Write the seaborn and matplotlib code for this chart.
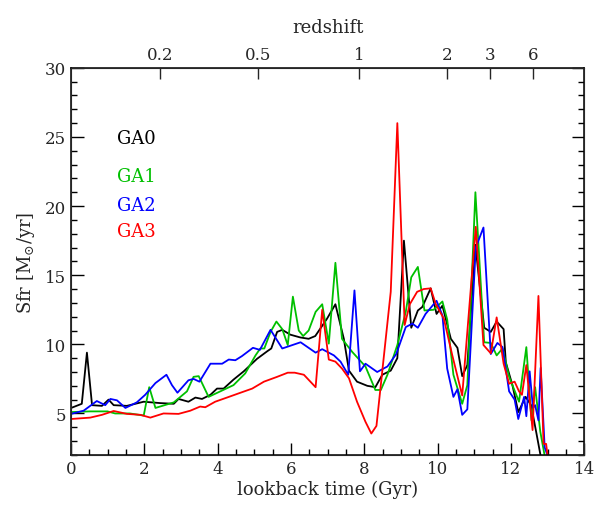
import numpy as np
import pandas as pd
import matplotlib
matplotlib.use("Agg")
import matplotlib.pyplot as plt
import seaborn as sns
from matplotlib.ticker import MultipleLocator

# lookback time (Gyr) and star formation rate (Msun/yr) per run
t_ga0 = [0.0, 0.29, 0.43, 0.57, 0.84, 1.02, 1.16, 1.52, 1.98, 2.43, 2.8, 2.93, 3.2, 3.39,
         3.57, 3.8, 3.98, 4.16, 4.43, 4.71, 5.07, 5.35, 5.46, 5.62, 5.76, 5.98, 6.25, 6.48,
         6.66, 6.98, 7.21, 7.44, 7.58, 7.8, 8.08, 8.3, 8.49, 8.72, 8.9, 9.08, 9.28, 9.46,
         9.58, 9.81, 9.97, 10.13, 10.36, 10.54, 10.67, 10.81, 11.03, 11.27, 11.45, 11.61,
         11.8, 11.86, 12.04, 12.2, 12.4, 12.55, 12.7, 12.84]
sfr_ga0 = [5.4, 5.7, 9.4, 5.6, 5.55, 6.0, 5.6, 5.55, 5.85, 5.75, 5.7, 6.05, 5.85, 6.15,
           6.05, 6.35, 6.8, 6.8, 7.45, 8.05, 8.95, 9.5, 9.7, 10.9, 11.05, 10.7, 10.5, 10.4,
           10.6, 11.85, 12.9, 10.4, 8.1, 7.3, 7.0, 6.9, 7.8, 8.1, 9.0, 17.5, 11.2, 12.45,
           12.7, 14.05, 12.2, 12.8, 10.4, 9.75, 7.7, 8.5, 17.2, 11.2, 10.9, 11.65,
           11.1, 8.7, 7.05, 5.1, 6.2, 5.6, 3.5, 1.5]

t_ga1 = [0.0, 0.5, 0.99, 1.2, 1.6, 1.98, 2.13, 2.3, 2.8, 3.16, 3.34, 3.48, 3.75, 4.07,
         4.43, 4.75, 5.03, 5.16, 5.27, 5.44, 5.6, 5.76, 5.91, 6.05, 6.21, 6.33, 6.48, 6.67,
         6.85, 7.03, 7.21, 7.39, 7.67, 8.03, 8.3, 8.45, 8.63, 8.9, 9.13, 9.28, 9.46, 9.64,
         9.89, 10.13, 10.26, 10.43, 10.67, 10.81, 11.03, 11.27, 11.45, 11.61, 11.77, 11.95,
         12.22, 12.42, 12.56, 12.66, 12.8, 12.95]
sfr_ga1 = [5.1, 5.15, 5.15, 5.0, 5.0, 4.85, 6.9, 5.4, 5.8, 6.6, 7.65, 7.7, 6.2, 6.6,
           7.05, 7.9, 9.2, 9.7, 9.7, 10.9, 11.65, 11.1, 9.95, 13.45, 11.0, 10.6, 11.0, 12.35,
           12.9, 10.05, 15.9, 10.4, 9.45, 8.4, 6.7, 6.7, 7.8, 9.95, 12.35, 14.85, 15.6, 12.45,
           12.5, 13.1, 11.8, 7.8, 5.7, 7.05, 21.0, 10.15, 10.1, 9.2, 9.7, 7.65,
           5.85, 9.8, 4.5, 6.9, 3.7, 1.5]

t_ga2 = [0.0, 0.34, 0.7, 0.93, 1.07, 1.25, 1.48, 1.79, 2.02, 2.3, 2.6, 2.75, 2.9, 3.2,
         3.34, 3.5, 3.8, 4.12, 4.3, 4.48, 4.66, 4.96, 5.15, 5.44, 5.76, 6.26, 6.67, 6.85,
         7.17, 7.35, 7.56, 7.73, 7.88, 8.03, 8.35, 8.63, 8.87, 9.13, 9.31, 9.46, 9.67, 9.97,
         10.13, 10.26, 10.43, 10.54, 10.67, 10.81, 11.04, 11.25, 11.45, 11.63, 11.77, 11.95,
         12.1, 12.2, 12.36, 12.42, 12.51, 12.6, 12.66, 12.75, 12.81, 12.92, 13.06]
sfr_ga2 = [4.97, 5.2, 5.9, 5.6, 6.05, 5.95, 5.4, 5.8, 6.35, 7.2, 7.8, 7.05, 6.5, 7.4,
           7.5, 7.3, 8.6, 8.6, 8.9, 8.85, 9.15, 9.75, 9.6, 11.05, 9.7, 10.15, 9.4, 9.65,
           9.2, 8.75, 7.8, 13.9, 8.05, 8.6, 8.0, 8.4, 9.3, 11.25, 11.5, 11.2, 12.2, 13.15,
           12.1, 8.25, 6.2, 6.75, 4.9, 5.3, 17.0, 18.45, 9.3, 10.1, 9.8, 6.6,
           6.0, 4.6, 6.2, 4.8, 8.05, 5.4, 5.6, 4.5, 8.3, 2.55, 1.5]

t_ga3 = [0.0, 0.52, 0.84, 1.16, 1.52, 1.89, 2.16, 2.52, 2.93, 3.25, 3.52, 3.66, 3.93, 4.25,
         4.62, 4.94, 5.26, 5.62, 5.91, 6.1, 6.35, 6.67, 6.85, 7.03, 7.21, 7.39, 7.58, 7.8,
         8.03, 8.19, 8.33, 8.72, 8.9, 9.1, 9.24, 9.44, 9.62, 9.81, 9.95, 10.17, 10.4, 10.67,
         11.04, 11.25, 11.45, 11.61, 11.8, 11.95, 12.1, 12.22, 12.3, 12.42, 12.59, 12.75,
         12.89, 12.96, 13.02]
sfr_ga3 = [4.6, 4.7, 4.9, 5.18, 4.97, 4.9, 4.7, 5.0, 4.97, 5.2, 5.5, 5.45, 5.85, 6.15,
           6.5, 6.8, 7.3, 7.65, 7.95, 7.95, 7.8, 6.9, 12.5, 8.9, 8.75, 8.25, 7.55, 5.85,
           4.4, 3.55, 4.1, 13.8, 26.0, 11.4, 12.9, 13.8, 14.0, 14.05, 12.9, 11.85, 9.2, 6.3,
           18.5, 9.95, 9.35, 11.95, 8.6, 7.15, 7.3, 6.6, 6.35, 8.5, 3.8, 13.5,
           2.8, 2.8, 1.5]

runs = ["GA0", "GA1", "GA2", "GA3"]
colors = ["black", "#00c000", "blue", "red"]

# redshift ticks for the top axis (position in lookback time)
z_labels = ["0.2", "0.5", "1", "2", "3", "6"]
z_tlook = [2.43, 5.1, 7.85, 10.25, 11.42, 12.6]

frames = []
for name, t, s in zip(runs, [t_ga0, t_ga1, t_ga2, t_ga3],
                      [sfr_ga0, sfr_ga1, sfr_ga2, sfr_ga3]):
    frames.append(pd.DataFrame({"t": t, "sfr": s, "run": name}))
df = pd.concat(frames, ignore_index=True)

sns.set_style("ticks")
plt.rcParams["font.family"] = ["DejaVu Serif"]
plt.rcParams["mathtext.fontset"] = "dejavuserif"

fig = plt.figure(figsize=(5.98, 5.10), dpi=100)
ax = fig.add_axes([0.119, 0.106, 0.858, 0.759])

sns.lineplot(data=df, x="t", y="sfr", hue="run", palette=colors, hue_order=runs,
             estimator=None, sort=False, linewidth=1.3, legend=False, ax=ax)

ax.set_xlim(0, 14)
ax.set_ylim(2, 30)
ax.xaxis.set_major_locator(MultipleLocator(2))
ax.xaxis.set_minor_locator(MultipleLocator(0.5))
ax.yaxis.set_major_locator(MultipleLocator(5))
ax.yaxis.set_minor_locator(MultipleLocator(1))
ax.set_yticks([5, 10, 15, 20, 25, 30])
ax.tick_params(which="both", direction="in", right=True, top=False, labelsize=12,
               width=1, color="black")
ax.tick_params(which="major", length=9)
ax.tick_params(which="minor", length=4.5)
for sp in ax.spines.values():
    sp.set_linewidth(1.1)
    sp.set_color("black")

ax.set_xlabel("lookback time (Gyr)", fontsize=13, labelpad=2)
ax.set_ylabel(r"Sfr [M$_{\odot}$/yr]", fontsize=13, labelpad=6)

top = ax.twiny()
top.set_xlim(ax.get_xlim())
top.set_xticks(z_tlook)
top.set_xticklabels(z_labels)
top.tick_params(direction="in", length=8, width=1, labelsize=12)
top.set_xlabel("redshift", fontsize=13, labelpad=10)

label_y = [24.9, 22.2, 20.1, 18.2]
for name, c, yy in zip(runs, colors, label_y):
    ax.text(1.26, yy, name, color=c, fontsize=13, va="center", ha="left")

fig.savefig("out.png", dpi=100)
